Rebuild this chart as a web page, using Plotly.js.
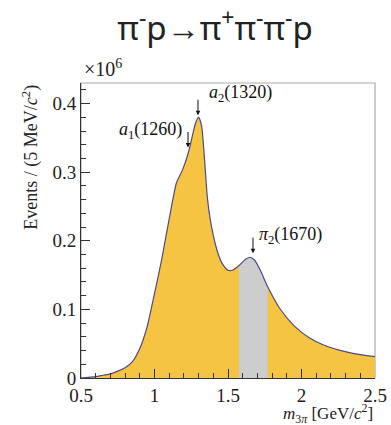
<!DOCTYPE html>
<html>
<head>
<meta charset="utf-8">
<script src="https://cdn.plot.ly/plotly-3.0.1.min.js"></script>
<style>html,body{margin:0;padding:0;background:#fff;}#plot{width:391px;height:425px;}</style>
</head>
<body>
<div id="plot"></div>
<script>
// m_3pi in GeV/c^2
var massGeV = [0.50,0.55,0.60,0.65,0.70,0.75,0.80,0.85,0.90,0.95,1.00,1.05,1.10,1.15,1.19,1.23,1.26,1.28,1.30,1.32,1.34,1.36,1.38,1.40,1.43,1.46,1.50,1.53,1.575,1.62,1.65,1.68,1.72,1.77,1.85,1.95,2.05,2.15,2.25,2.35,2.50];
// events per 5 MeV/c^2 in units of 10^6
var events = [0.000,0.001,0.002,0.004,0.006,0.010,0.015,0.024,0.043,0.075,0.123,0.174,0.232,0.285,0.303,0.328,0.355,0.372,0.380,0.368,0.320,0.262,0.230,0.208,0.183,0.167,0.157,0.157,0.164,0.173,0.176,0.172,0.157,0.133,0.102,0.076,0.059,0.048,0.041,0.036,0.031];
var bandRange = [1.575, 1.77];
var xTickVals = [0.5,1,1.5,2,2.5];
var xTickText = ["0.5","1","1.5","2","2.5"];
var yTickVals = [0,0.1,0.2,0.3,0.4];
var yTickText = ["0","0.1","0.2","0.3","0.4"];
var resLabels = ["<i>a</i><sub>1</sub>(1260)","<i>a</i><sub>2</sub>(1320)","<i>π</i><sub>2</sub>(1670)"];
var resTipX = [1.228,1.296,1.670];
var resTipY = [0.336,0.383,0.182];
var resLabelX = [1.20,1.357,1.697];
var resLabelY = [0.361,0.415,0.208];
var resAnchor = ["right","left","left"];

var bx=[],by=[];
for (var i=0;i<massGeV.length;i++){ if(massGeV[i]>=bandRange[0]-1e-9 && massGeV[i]<=bandRange[1]+1e-9){bx.push(massGeV[i]);by.push(events[i]);} }

var serif = "Liberation Serif";
var traces = [
 {x:massGeV,y:events,type:'scatter',mode:'lines',line:{width:0,shape:'spline',smoothing:0.6},fill:'tozeroy',fillcolor:'#F6C443',hoverinfo:'skip'},
 {x:bx,y:by,type:'scatter',mode:'lines',line:{width:0,shape:'spline',smoothing:0.6},fill:'tozeroy',fillcolor:'#CDCDCD',hoverinfo:'skip'},
 {x:massGeV,y:events,type:'scatter',mode:'lines',line:{width:1.2,color:'#4B4B8C',shape:'spline',smoothing:0.6},hoverinfo:'skip'}
];
var ann = [];
for (var k=0;k<resLabels.length;k++){
  ann.push({x:resTipX[k],y:resTipY[k],xref:'x',yref:'y',text:'',showarrow:true,ax:0,ay:-17,arrowhead:2,arrowsize:0.9,arrowwidth:1,arrowcolor:'#111'});
  ann.push({x:resLabelX[k],y:resLabelY[k],xref:'x',yref:'y',text:resLabels[k],showarrow:false,xanchor:resAnchor[k],yanchor:'middle',font:{family:serif,size:18,color:'#111'}});
}
ann.push({x:0.005,y:1.005,xref:'paper',yref:'paper',text:'×10<sup>6</sup>',showarrow:false,xanchor:'left',yanchor:'bottom',font:{family:serif,size:20,color:'#222'}});
ann.push({x:-0.173,y:1.0,xref:'paper',yref:'paper',text:'Events / (5 MeV/<i>c</i><sup>2</sup>)',showarrow:false,textangle:-90,xanchor:'center',yanchor:'top',font:{family:serif,size:18,color:'#222'}});
ann.push({x:1.0,y:-0.122,xref:'paper',yref:'paper',text:'<i>m</i><sub>3<i>π</i></sub> [GeV/<i>c</i><sup>2</sup>]',showarrow:false,xanchor:'right',yanchor:'middle',font:{family:serif,size:17,color:'#222'}});

var layout = {
 width:391,height:425,
 margin:{l:81,r:16,t:83,b:47},
 paper_bgcolor:'#fff',plot_bgcolor:'#fff',
 showlegend:false,
 title:{text:'π<sup>-</sup>p→π<sup>+</sup>π<sup>-</sup>π<sup>-</sup>p',x:0.55,xref:'container',xanchor:'center',y:0.934,yref:'container',yanchor:'middle',font:{family:'Noto Sans',size:33,color:'#222'}},
 xaxis:{range:[0.5,2.5],tickmode:'linear',tick0:xTickVals[0],dtick:xTickVals[1]-xTickVals[0],ticks:'inside',ticklen:9,tickcolor:'#333',showline:true,linecolor:'#333',linewidth:1,showgrid:false,zeroline:false,layer:'above traces',
   minor:{tick0:0.5,dtick:0.1,ticks:'inside',ticklen:5,tickcolor:'#333',tickwidth:1,showgrid:false},tickfont:{family:'Liberation Serif',size:19,color:'#222'}},
 yaxis:{range:[0,0.43],tickmode:'linear',tick0:yTickVals[0],dtick:yTickVals[1]-yTickVals[0],ticks:'inside',ticklen:9,tickcolor:'#333',showline:true,linecolor:'#333',linewidth:1,showgrid:false,zeroline:false,layer:'above traces',
   minor:{tick0:0,dtick:0.02,ticks:'inside',ticklen:5,tickcolor:'#333',tickwidth:1,showgrid:false},tickfont:{family:'Liberation Serif',size:19,color:'#222'}},
 shapes:[{type:'rect',xref:'paper',yref:'paper',x0:0,x1:1,y0:0,y1:1,line:{color:'#AAAAAA',width:1.2},layer:'below'}],
 annotations:ann
};
Plotly.newPlot('plot',traces,layout,{displayModeBar:false,staticPlot:true});
</script>
</body>
</html>
